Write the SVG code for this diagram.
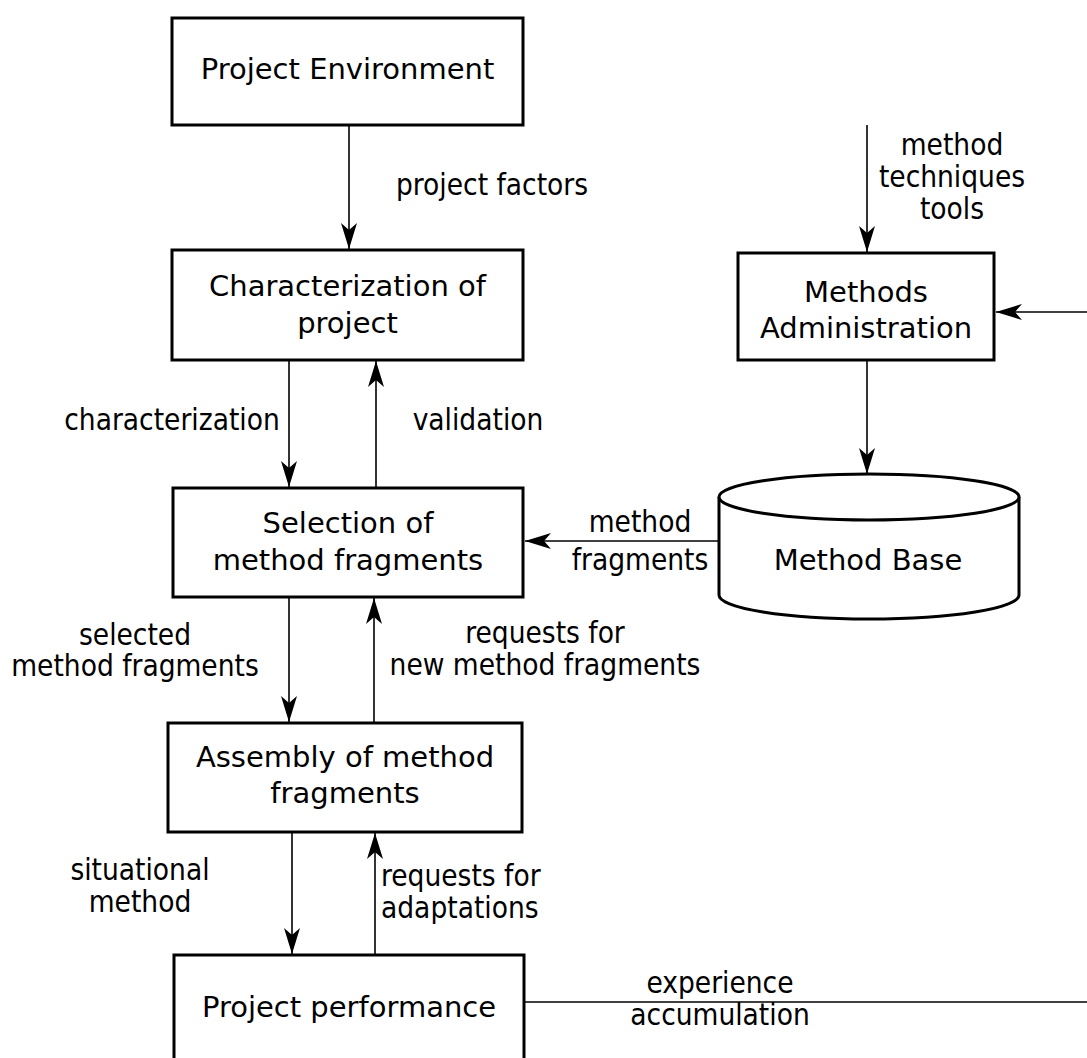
<svg xmlns="http://www.w3.org/2000/svg" width="1087" height="1058" viewBox="0 0 1087 1058">
<style>
.box{fill:#fff;stroke:#000;stroke-width:3}
.node{font-family:'DejaVu Sans',sans-serif;font-size:29px;fill:#000;text-anchor:middle}
.lbl{font-family:'DejaVu Sans Condensed','DejaVu Sans',sans-serif;font-stretch:condensed;font-size:29.5px;fill:#000;text-anchor:middle}
.edge{fill:none;stroke:#000;stroke-width:1.6}
</style>
<defs>
<marker id="ah" markerUnits="userSpaceOnUse" orient="auto" markerWidth="30" markerHeight="20" refX="0" refY="0" viewBox="-28 -10 30 20" overflow="visible">
<path d="M0,0 L-26,-8 L-19,0 L-26,8 Z" fill="#000"/>
</marker>
</defs>
<rect width="1087" height="1058" fill="#fff"/>
<g id="connectors">
<line class="edge" x1="349" y1="125" x2="349" y2="249" marker-end="url(#ah)"/>
<line class="edge" x1="867" y1="125" x2="867" y2="252" marker-end="url(#ah)"/>
<line class="edge" x1="1090" y1="312" x2="996" y2="312" marker-end="url(#ah)"/>
<line class="edge" x1="867" y1="360" x2="867" y2="474" marker-end="url(#ah)"/>
<line class="edge" x1="289" y1="360" x2="289" y2="487" marker-end="url(#ah)"/>
<line class="edge" x1="376" y1="488" x2="376" y2="361" marker-end="url(#ah)"/>
<line class="edge" x1="719" y1="541" x2="525" y2="541" marker-end="url(#ah)"/>
<line class="edge" x1="289" y1="597" x2="289" y2="722" marker-end="url(#ah)"/>
<line class="edge" x1="374" y1="723" x2="374" y2="598" marker-end="url(#ah)"/>
<line class="edge" x1="292" y1="832" x2="292" y2="954" marker-end="url(#ah)"/>
<line class="edge" x1="375" y1="955" x2="375" y2="833" marker-end="url(#ah)"/>
<line class="edge" x1="524" y1="1002" x2="1090" y2="1002"/>
<text class="lbl" x="492" y="195">project factors</text>
<text class="lbl" x="952" y="155">method</text>
<text class="lbl" x="952" y="187">techniques</text>
<text class="lbl" x="952" y="219">tools</text>
<text class="lbl" x="172" y="430">characterization</text>
<text class="lbl" x="478" y="430">validation</text>
<text class="lbl" x="640" y="532">method</text>
<text class="lbl" x="640" y="570">fragments</text>
<text class="lbl" x="135" y="645">selected</text>
<text class="lbl" x="135" y="676">method fragments</text>
<text class="lbl" x="545" y="643">requests for</text>
<text class="lbl" x="545" y="675">new method fragments</text>
<text class="lbl" x="140" y="880">situational</text>
<text class="lbl" x="140" y="912">method</text>
<text class="lbl" x="381" y="886" style="text-anchor:start">requests for</text>
<text class="lbl" x="381" y="918" style="text-anchor:start">adaptations</text>
<text class="lbl" x="720" y="993">experience</text>
<text class="lbl" x="720" y="1025">accumulation</text>
</g>
<g id="project-environment">
<rect class="box" x="172" y="18" width="351" height="107"/>
<text class="node" x="347.5" y="79">Project Environment</text>
</g>
<g id="characterization">
<rect class="box" x="172" y="250" width="351" height="110"/>
<text class="node" x="347.5" y="296">Characterization of</text>
<text class="node" x="347.5" y="333">project</text>
</g>
<g id="methods-administration">
<rect class="box" x="738" y="253" width="256" height="107"/>
<text class="node" x="866" y="302">Methods</text>
<text class="node" x="866" y="338">Administration</text>
</g>
<g id="method-base">
<path class="box" d="M719,497 L719,595 A150,24 0 0 0 1019,595 L1019,497 A150,23 0 0 0 719,497 Z"/>
<path class="box" d="M719,497 A150,23 0 0 0 1019,497" fill="none"/>
<text class="node" x="868" y="570">Method Base</text>
</g>
<g id="selection">
<rect class="box" x="173" y="488" width="350" height="109"/>
<text class="node" x="348" y="533">Selection of</text>
<text class="node" x="348" y="570">method fragments</text>
</g>
<g id="assembly">
<rect class="box" x="168" y="723" width="354" height="109"/>
<text class="node" x="345" y="767">Assembly of method</text>
<text class="node" x="345" y="803">fragments</text>
</g>
<g id="project-performance">
<rect class="box" x="174" y="955" width="350" height="120"/>
<text class="node" x="349" y="1017">Project performance</text>
</g>
</svg>
